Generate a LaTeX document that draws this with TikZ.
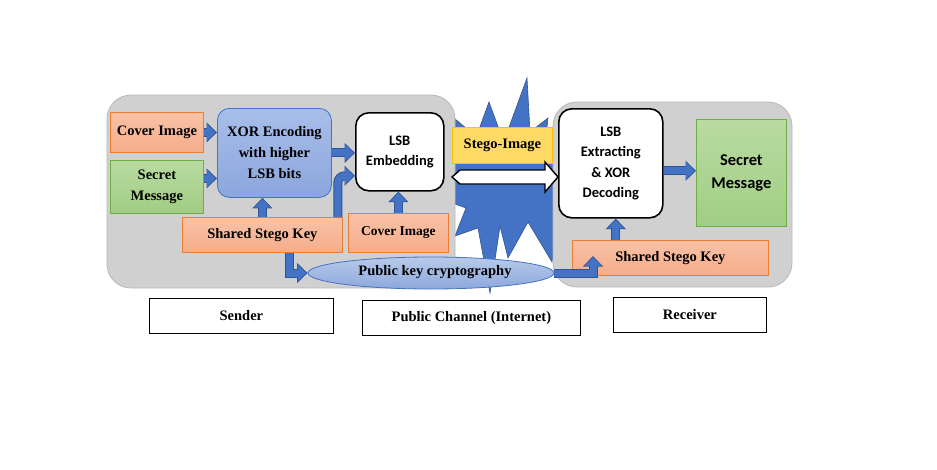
\documentclass[tikz,border=0pt]{standalone}
\usepackage{fontspec}
\setmainfont{Liberation Serif}
\newfontfamily\calibfont{Carlito}
\usetikzlibrary{arrows.meta,shapes.geometric,shapes.arrows}
\definecolor{panelgray}{HTML}{D0D0D0}
\definecolor{panelline}{HTML}{B8B8B8}
\definecolor{ortop}{HTML}{F8C2A6}
\definecolor{orbot}{HTML}{F5AD8B}
\definecolor{orline}{HTML}{ED7D31}
\definecolor{grtop}{HTML}{B8DBA1}
\definecolor{grbot}{HTML}{A2CD85}
\definecolor{grline}{HTML}{70AD47}
\definecolor{bltop}{HTML}{A8BEEA}
\definecolor{blbot}{HTML}{8CA6DC}
\definecolor{blline}{HTML}{4472C4}
\definecolor{arrblue}{HTML}{4472C4}
\definecolor{burst}{HTML}{4472C4}
\definecolor{burstline}{HTML}{2F5597}
\definecolor{yefill}{HTML}{FFD966}
\definecolor{yeline}{HTML}{FFC000}
\definecolor{eltop}{HTML}{B8CAEA}
\definecolor{elbot}{HTML}{8DA8DC}
\tikzset{
  panel/.style={fill=panelgray, draw=panelline, line width=0.8pt, rounded corners=24pt},
  obox/.style={rectangle, top color=ortop, bottom color=orbot, draw=orline, line width=0.8pt, anchor=north west, align=center, inner sep=0pt},
  gbox/.style={rectangle, top color=grtop, bottom color=grbot, draw=grline, line width=0.8pt, anchor=north west, align=center, inner sep=0pt},
  ybox/.style={rectangle, fill=yefill, draw=yeline, line width=0.8pt, anchor=north west, align=center, inner sep=0pt},
  xbox/.style={rectangle, top color=bltop, bottom color=blbot, draw=blline, line width=0.8pt, rounded corners=12pt, anchor=north west, align=center, inner sep=0pt},
  wbox/.style={rectangle, fill=white, draw=black, line width=1.6pt, rounded corners=13pt, anchor=north west, align=center, inner sep=0pt, font=\calibfont\bfseries\fontsize{14.5}{20.5}\selectfont},
  lbox/.style={rectangle, fill=white, draw=black, line width=0.8pt, anchor=north west, align=center, inner sep=0pt},
  blk/.style={line width=7pt, draw=arrblue, -{Triangle[width=16pt,length=8.5pt]}, shorten >=1.3pt,
    preaction={draw=burstline, line width=9pt, -{Triangle[width=19.5pt,length=10.5pt]}, shorten >=0pt}},
}
\begin{document}
\begin{tikzpicture}[x=1pt,y=-1pt, font=\bfseries\fontsize{14.5}{21}\selectfont]
\useasboundingbox (0,0) rectangle (937,469);
\fill[white] (0,0) rectangle (937,469);
% starburst
\filldraw[fill=burst, draw=burstline, line width=0.6pt]
  (438,105) -- (466,128) -- (478,132) -- (489,102) -- (500,132) -- (508,130)
  -- (527,78) -- (530,132) -- (548,118) -- (545,145) -- (575,170) -- (560,200)
  -- (552,262) -- (528,222) -- (508,258) -- (500,226) -- (490,293) -- (478,228)
  -- (455,236) -- (466,208) -- (430,195) -- (440,150) -- cycle;
% panels
\draw[panel] (107,95) rectangle (455,288);
% public key ellipse
\node[ellipse, top color=eltop, bottom color=elbot, draw=blline, line width=0.8pt, minimum width=246pt, minimum height=32pt, inner sep=0pt] (pk) at (431,273) {};
\node (pktext) at (435,272) {Public key cryptography};
\draw[panel] (553,102) rectangle (792,287);
% sender nodes
\node[obox, minimum width=93pt, minimum height=40pt] (ci1) at (110,112) {Cover Image};
\node[gbox, minimum width=93pt, minimum height=53pt] (sm1) at (110,160) {Secret\\Message};
\node[xbox, minimum width=114pt, minimum height=89pt] (xor) at (217,108) {XOR Encoding\\with higher\\LSB bits};
\node[wbox, minimum width=88pt, minimum height=78pt] (emb) at (355,112) {LSB\\Embedding};
\node[obox, minimum width=160pt, minimum height=35pt] (key1) at (182,217) {Shared Stego Key};
\node[obox, minimum width=100pt, minimum height=39pt, font=\bfseries\fontsize{13.5}{18}\selectfont] (ci2) at (348,213) {Cover Image};
% channel
\node[ybox, minimum width=100pt, minimum height=36pt] (stego) at (452,127) {Stego-Image};
% receiver nodes
\node[wbox, minimum width=104pt, minimum height=109pt] (ext) at (558,108) {LSB\\Extracting\\\& XOR\\Decoding};
\node[gbox, minimum width=90pt, minimum height=107pt, font=\calibfont\bfseries\fontsize{16.5}{23}\selectfont] (sm2) at (696,119) {Secret\\Message};
\node[obox, minimum width=196pt, minimum height=35pt] (key2) at (572,240) {Shared Stego Key};
% labels
\node[lbox, minimum width=184pt, minimum height=35pt] (lab1) at (149,298) {Sender};
\node[lbox, minimum width=218pt, minimum height=35pt] (lab2) at (362,300) {Public Channel (Internet)};
\node[lbox, minimum width=153pt, minimum height=35pt] (lab3) at (613,297) {Receiver};
% helper coordinates
\coordinate (s1) at ([yshift=8.5pt]sm1.east);
\coordinate (k1a) at ([xshift=-5pt]key1.north east);
\coordinate (e1) at ([yshift=-24pt]emb.west);
\coordinate (k1b) at ([xshift=27pt]key1.south);
\coordinate (k2in) at ([xshift=21pt,yshift=-16pt]key2.north west);
\coordinate (exs) at ([xshift=5pt]ext.south);
\coordinate (exe) at ([yshift=-7.5pt]ext.east);
% arrows
\draw[blk] (ci1.east) -- (xor.west |- ci1.east);
\draw[blk] (s1) -- (xor.west |- s1);
\draw[blk] (key1.north) -- (key1.north |- xor.south);
\draw[blk] (xor.east) -- (emb.west |- xor.east);
\draw[blk, rounded corners=7pt] (k1a) |- (e1);
\draw[blk] (ci2.north) -- (ci2.north |- emb.south);
\draw[blk] (k1b) |- (pk.west);
\draw[blk] (pk.east) -| (k2in);
\draw[blk] (exs |- key2.north) -- (exs);
\draw[blk] (exe) -- (sm2.west |- exe);
% white block arrow from sender to receiver
\coordinate (wa1) at (452,177);
\coordinate (wa2) at (ext.west |- wa1);
\filldraw[fill=white, draw=black, line width=1.4pt, line join=miter]
  (wa1) -- ([xshift=8pt,yshift=7pt]wa1) -- ([xshift=-13pt,yshift=7pt]wa2) -- ([xshift=-13pt,yshift=15pt]wa2)
  -- (wa2) -- ([xshift=-13pt,yshift=-15pt]wa2) -- ([xshift=-13pt,yshift=-7pt]wa2)
  -- ([xshift=8pt,yshift=-7pt]wa1) -- cycle;
\end{tikzpicture}
\end{document}
